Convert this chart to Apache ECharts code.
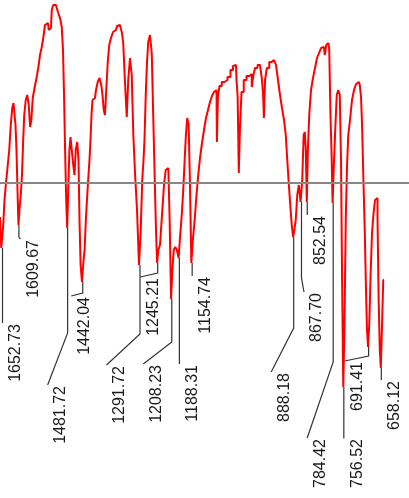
<!DOCTYPE html>
<html>
<head>
<meta charset="utf-8">
<script src="https://cdn.jsdelivr.net/npm/echarts@6/dist/echarts.min.js"></script>
<style>
  html, body { margin: 0; padding: 0; background: #fff; }
  #main { width: 409px; height: 498px; }
</style>
</head>
<body>
<div id="main"></div>
<script>
// spectrum, wavenumber (cm-1) and transmittance (%)
const wavenumber = [
  1659.3, 1652.73, 1648.8, 1646.2, 1640.9, 1637.0, 1633.0, 1629.1, 1625.2, 1622.5,
  1619.9, 1617.3, 1614.7, 1612.0, 1609.67, 1606.8, 1602.8, 1600.2, 1597.6, 1593.7,
  1589.7, 1585.8, 1581.8, 1578.7, 1575.3, 1571.3, 1566.1, 1560.8, 1556.9, 1551.6,
  1547.7, 1543.8, 1538.5, 1533.3, 1529.3, 1525.4, 1521.5, 1517.5, 1512.3, 1508.3,
  1504.4, 1499.1, 1495.2, 1492.6, 1489.9, 1486.8, 1484.2, 1481.72, 1478.6, 1475.5,
  1472.9, 1468.9, 1465.0, 1462.4, 1458.4, 1454.5, 1451.9, 1449.2, 1446.1, 1442.04,
  1438.7, 1435.6, 1432.2, 1428.2, 1425.6, 1423.0, 1420.4, 1417.7, 1415.1, 1409.9,
  1404.6, 1400.7, 1395.4, 1391.5, 1388.9, 1384.9, 1382.3, 1378.3, 1374.4, 1370.5,
  1365.2, 1360.0, 1354.7, 1349.5, 1344.2, 1340.3, 1337.7, 1333.7, 1328.5, 1324.5,
  1320.6, 1315.3, 1311.4, 1307.4, 1302.2, 1296.9, 1291.72, 1287.8, 1283.8, 1281.2,
  1278.6, 1274.6, 1272.0, 1268.1, 1262.8, 1258.9, 1254.9, 1251.0, 1248.4, 1245.21,
  1241.8, 1236.6, 1231.3, 1226.1, 1222.1, 1219.0, 1215.6, 1212.1, 1208.23, 1205.1,
  1201.1, 1197.2, 1192.4, 1188.31, 1184.0, 1180.1, 1176.2, 1172.7, 1169.6, 1165.7,
  1162.3, 1159.1, 1154.74, 1151.2, 1146.0, 1140.7, 1136.8, 1131.5, 1126.3, 1121.0,
  1115.8, 1110.5, 1105.3, 1100.0, 1094.8, 1090.8, 1088.7, 1085.6, 1080.3, 1073.8,
  1065.9, 1058.0, 1050.1, 1044.9, 1039.6, 1037.0, 1033.6, 1031.0, 1027.8, 1022.6,
  1016.0, 1008.1, 1000.2, 996.3, 992.4, 987.1, 979.2, 974.0, 970.0, 967.4,
  965.3, 961.4, 955.6, 949.0, 942.5, 937.2, 932.0, 926.7, 921.5, 916.2,
  911.0, 907.0, 903.1, 899.2, 895.2, 891.3, 888.18, 884.7, 880.8, 876.8,
  872.4, 867.70, 863.7, 860.3, 857.7, 855.0, 852.54, 849.3, 845.3, 840.1,
  834.8, 829.6, 824.3, 819.1, 813.8, 808.6, 804.6, 800.7, 796.8, 792.8,
  790.2, 787.6, 784.42, 781.0, 777.1, 773.1, 769.2, 765.2, 762.6, 759.5,
  756.52, 753.4, 749.5, 746.9, 742.9, 737.7, 732.4, 727.2, 721.9, 716.7,
  712.7, 710.1, 707.5, 703.6, 699.6, 697.0, 694.4, 691.41, 687.8, 684.4,
  680.5, 676.5, 672.6, 669.4, 666.8, 663.4, 660.7, 658.12, 655.0, 651.0
];
const transmittance = [
  56.2, 50.0, 54.6, 59.6, 63.0, 66.6, 69.6, 74.6, 78.0, 79.0,
  78.6, 74.6, 69.6, 61.6, 54.6, 57.6, 60.6, 64.6, 70.6, 76.6,
  79.6, 80.6, 78.6, 74.2, 75.6, 80.0, 82.0, 84.0, 86.0, 88.6,
  90.2, 92.0, 94.6, 95.0, 93.6, 94.0, 97.6, 98.6, 98.6, 98.0,
  97.0, 96.0, 94.2, 89.6, 81.0, 69.6, 59.6, 54.0, 61.6, 69.6,
  72.2, 69.6, 66.6, 64.6, 69.6, 71.2, 67.6, 55.6, 46.6, 43.2,
  47.2, 49.6, 55.6, 60.6, 64.6, 67.6, 71.6, 76.6, 79.6, 80.0,
  81.6, 83.2, 84.0, 82.6, 80.6, 77.6, 76.6, 81.6, 87.2, 90.6,
  92.0, 93.2, 93.6, 94.4, 94.6, 94.2, 93.0, 91.0, 83.0, 76.2,
  83.6, 88.0, 84.6, 73.0, 65.0, 57.6, 46.6, 53.6, 63.6, 67.6,
  71.6, 80.6, 87.2, 91.2, 92.6, 89.0, 76.2, 63.6, 53.6, 47.0,
  49.6, 50.6, 56.6, 62.6, 65.6, 66.0, 65.6, 55.6, 39.8, 45.6,
  49.6, 50.2, 49.6, 48.0, 52.6, 56.6, 61.6, 67.6, 72.6, 76.0,
  74.6, 63.6, 47.0, 51.6, 55.2, 60.6, 64.6, 68.0, 71.0, 73.6,
  76.0, 77.6, 79.2, 80.4, 81.2, 81.6, 71.2, 80.2, 82.4, 83.2,
  83.6, 84.2, 85.6, 86.4, 86.6, 83.6, 80.2, 65.0, 73.6, 81.2,
  83.6, 84.4, 84.8, 82.2, 84.4, 86.0, 86.6, 87.0, 84.0, 81.0,
  76.0, 83.6, 86.0, 87.2, 87.6, 87.4, 86.6, 83.6, 80.6, 78.0,
  75.6, 72.6, 67.6, 63.0, 58.6, 54.6, 52.2, 53.6, 55.6, 60.6,
  62.6, 59.2, 63.6, 72.6, 73.2, 69.6, 59.2, 69.6, 76.6, 81.6,
  84.0, 86.0, 88.0, 89.0, 90.0, 90.2, 88.6, 90.6, 91.0, 89.6,
  76.2, 69.6, 59.0, 66.6, 73.6, 80.6, 81.6, 80.6, 67.6, 43.6,
  22.2, 33.6, 55.6, 66.2, 72.6, 75.6, 79.6, 81.6, 82.8, 83.2,
  82.6, 80.2, 75.0, 65.0, 53.6, 41.6, 33.6, 30.2, 35.0, 45.0,
  53.0, 57.0, 59.6, 60.0, 56.2, 39.6, 29.6, 26.0, 33.6, 43.6
];

// labelled minima
const peakWn = [1652.73, 1609.67, 1481.72, 1442.04, 1291.72, 1245.21, 1208.23, 1188.31,
  1154.74, 888.18, 867.70, 852.54, 784.42, 756.52, 691.41, 658.12];
const peakT = [50.0, 54.6, 54.0, 43.2, 46.6, 47.0, 39.8, 48.0,
  47.0, 52.2, 59.2, 59.2, 59.0, 22.2, 30.2, 26.0];

const refLine = 63.0;

// leader layout in px: [bend y, end dx from peak, end y]
const leaderLayout = [
  [323, 0, 323], [237, 1.5, 239], [333, -20, 385], [293, -11.5, 296],
  [334, -33.5, 365], [273, -17.5, 277], [342, -28.5, 364], [364, 0, 364],
  [276, 0, 276], [328, -22.5, 372], [278, 2.5, 292], [215, 0, 215],
  [362, -26, 438], [438, 0.5, 438], [356, -24, 361], [380, 0, 380]
];

const chart = echarts.init(document.getElementById('main'));

const option = {
  animation: false,
  backgroundColor: '#fff',
  grid: { left: 0, right: 0, top: 0, bottom: 0 },
  xAxis: { type: 'value', inverse: true, min: 585.4, max: 1659.3, show: false },
  yAxis: { type: 'value', min: 0, max: 99.6, show: false },
  series: [
    {
      type: 'line',
      data: wavenumber.map((w, i) => [w, transmittance[i]]),
      step: 'middle',
      showSymbol: false,
      lineStyle: { color: '#ff0000', width: 2 },
      markLine: {
        silent: true,
        symbol: ['none', 'none'],
        label: { show: false },
        lineStyle: { color: '#888', width: 2, type: 'solid' },
        data: [{ yAxis: refLine }]
      },
      z: 2
    },
    {
      type: 'custom',
      data: peakWn.map((w, i) => [w, peakT[i]]),
      renderItem: (params, api) => {
        const i = params.dataIndex;
        const p = api.coord([api.value(0), api.value(1)]);
        const lay = leaderLayout[i];
        const bend = [p[0], lay[0]];
        const end = [p[0] + lay[1], lay[2]];
        return {
          type: 'group',
          children: [
            {
              type: 'polyline',
              shape: { points: [p, bend, end] },
              style: { stroke: '#333', lineWidth: 1.2, fill: null }
            },
            {
              type: 'text',
              x: end[0] + 13,
              y: end[1] + 1,
              rotation: Math.PI / 2,
              style: {
                text: peakWn[i].toFixed(2),
                fontSize: 16,
                fontFamily: '"Liberation Sans", Arial, sans-serif',
                fill: '#1a1a1a',
                align: 'right',
                verticalAlign: 'middle'
              }
            }
          ]
        };
      },
      z: 3
    }
  ]
};

chart.setOption(option);
</script>
</body>
</html>
